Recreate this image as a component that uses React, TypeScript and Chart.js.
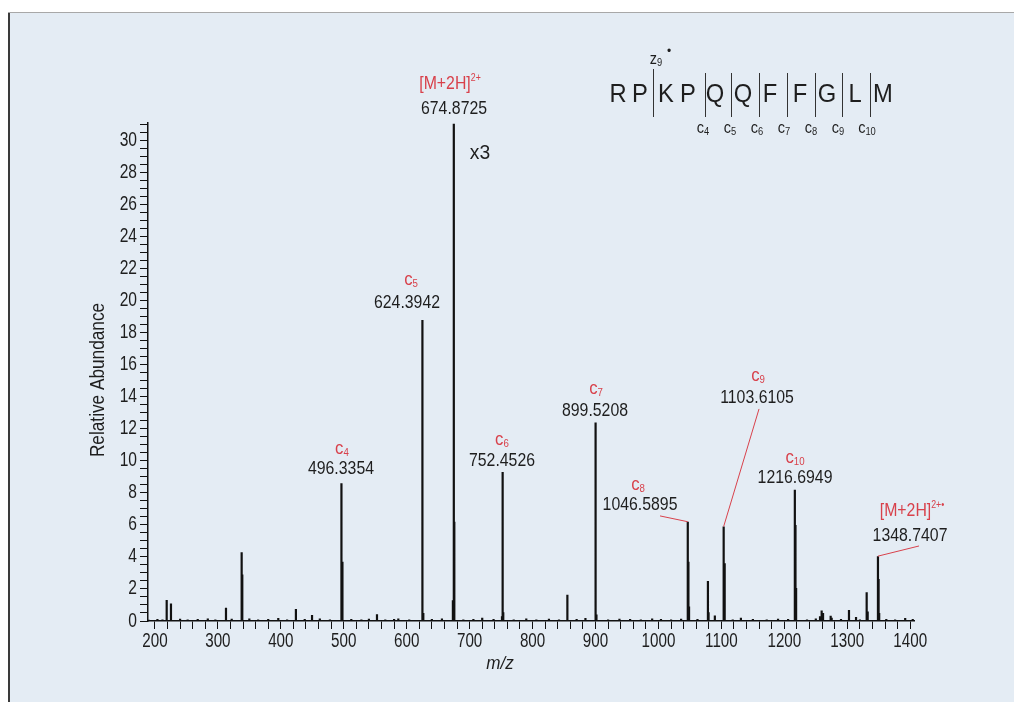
import React, { useEffect, useRef } from "react";
import { Chart, registerables } from "chart.js";

Chart.register(...registerables);

// ---------------- data ----------------
const PEAK_MZ = [
  218.7, 225.5, 312.9, 337.8, 338.8, 424.0, 449.6, 496.34, 497.34, 498.3, 552.8, 586.7,
  624.39, 625.39, 626.4, 673.4, 674.87, 675.37, 675.87, 751.4, 752.45, 753.45, 854.7, 855.7,
  899.52, 900.52, 901.5, 1046.59, 1047.59, 1048.6, 1078.6, 1079.6, 1089.6, 1103.61, 1104.61, 1105.6,
  1216.69, 1217.69, 1218.7, 1256.7, 1259.3, 1261.5, 1273.6, 1275.2, 1302.7, 1313.9, 1330.8, 1332.4,
  1348.74, 1349.74, 1350.7,
];
const PEAK_ABUNDANCE = [
  1.31, 1.1, 0.83, 4.3, 2.9, 0.75, 0.37, 8.6, 3.7, 0.6, 0.42, 0.15,
  18.8, 5.9, 0.5, 1.3, 31.05, 6.2, 1.1, 0.3, 9.3, 0.55, 1.64, 0.5,
  12.4, 5.6, 0.4, 6.2, 3.7, 0.9, 2.5, 0.55, 0.35, 5.9, 3.6, 1.0,
  8.2, 6.0, 2.06, 0.3, 0.65, 0.5, 0.33, 0.2, 0.69, 0.25, 1.79, 0.6,
  4.05, 2.62, 0.5,
];
const NOISE_MZ = [
  190, 204, 212, 240, 252, 268, 284, 296,
  322, 350, 364, 380, 396, 410, 438, 462,
  478, 512, 528, 540, 566, 580, 604, 640,
  656, 690, 706, 720, 738, 770, 790, 806,
  826, 842, 870, 884, 920, 938, 955, 972,
  990, 1004, 1020, 1036, 1062, 1118, 1131, 1150,
  1172, 1190, 1206, 1236, 1250, 1290, 1320, 1362,
  1376, 1392, 1404,
];
const NOISE_ABUNDANCE = [
  0.08, 0.12, 0.1, 0.14, 0.1, 0.12, 0.16, 0.1,
  0.14, 0.16, 0.1, 0.12, 0.18, 0.1, 0.12, 0.15,
  0.1, 0.12, 0.1, 0.14, 0.1, 0.12, 0.1, 0.12,
  0.15, 0.1, 0.12, 0.2, 0.12, 0.1, 0.16, 0.1,
  0.14, 0.1, 0.12, 0.18, 0.1, 0.14, 0.12, 0.1,
  0.16, 0.12, 0.1, 0.14, 0.12, 0.1, 0.2, 0.12,
  0.1, 0.14, 0.12, 0.1, 0.15, 0.12, 0.1, 0.12,
  0.1, 0.18, 0.12,
];

// labelled peaks
const LABEL_MZ = [674.8725, 624.3942, 496.3354, 752.4526, 899.5208, 1046.5895, 1103.6105, 1216.6949, 1348.7407];
const LABEL_ABUNDANCE = [31.05, 18.8, 8.6, 9.3, 12.4, 6.2, 5.9, 8.2, 4.05];
const LABEL_ION = ["[M+2H]", "c", "c", "c", "c", "c", "c", "c", "[M+2H]"];
const LABEL_ION_INDEX = ["2+", "5", "4", "6", "7", "8", "9", "10", "2+\u2022"];

// axis
const X_MIN = 189;
const X_MAX = 1406;
const Y_MAX = 31.1;
const X_STEP = 20;
const X_LABEL_STEP = 100;
const Y_STEP = 0.5;
const Y_LABEL_STEP = 2;
const X_TITLE = "m/z";
const Y_TITLE = "Relative Abundance";
const SCALE_NOTE = "x3";

// sequence
const SEQUENCE = ["R", "P", "K", "P", "Q", "Q", "F", "F", "G", "L", "M"];
const C_IONS = ["4", "5", "6", "7", "8", "9", "10"];

// ---------------- layout / style (not data) ----------------
const LABEL_LAYOUT = [
  { textMz: 675.2, textAb: 31.98, ionDx: -4, ionDy: -25, leader: null as null | number[] },
  { textMz: 600.5, textAb: 19.86, ionDx: 4, ionDy: -23, leader: null },
  { textMz: 495.6, textAb: 9.49, ionDx: 1, ionDy: -20, leader: null },
  { textMz: 751.4, textAb: 9.99, ionDx: 0, ionDy: -21, leader: null },
  { textMz: 899.2, textAb: 13.12, ionDx: 1, ionDy: -22, leader: null },
  { textMz: 970.7, textAb: 7.25, ionDx: -2, ionDy: -20, leader: [20, 11] },
  { textMz: 1156.6, textAb: 13.93, ionDx: 1, ionDy: -22, leader: [2, 11] },
  { textMz: 1217.0, textAb: 8.93, ionDx: 0, ionDy: -20, leader: null },
  { textMz: 1399.7, textAb: 5.31, ionDx: 2, ionDy: -25, leader: [9, 10] },
];
const SEQ_X = [610, 632, 658, 680, 707, 735, 762, 792, 819, 847, 875];
const SEQ_BAR_X = [645, 697, 723, 751, 779, 807, 834, 862];
const SEQ_C_X = [695, 722, 749, 776, 803, 830, 859];

const SANS = "'Liberation Sans', Arial, Helvetica, sans-serif";
const RED = "#d8414b";
const INK = "#1e1e1e";
const BG = "#e4ecf4";

type Part = { t: string; size: number; dy?: number; style?: string };

function richText(
  ctx: CanvasRenderingContext2D,
  parts: Part[],
  x: number,
  y: number,
  align: "left" | "center" | "right",
  sx: number,
  color: string
) {
  ctx.save();
  let w = 0;
  for (const p of parts) {
    ctx.font = `${p.style || ""} ${p.size}px ${SANS}`;
    w += ctx.measureText(p.t).width;
  }
  w *= sx;
  let cx = align === "center" ? x - w / 2 : align === "right" ? x - w : x;
  ctx.fillStyle = color;
  ctx.textBaseline = "middle";
  ctx.textAlign = "left";
  for (const p of parts) {
    ctx.font = `${p.style || ""} ${p.size}px ${SANS}`;
    const pw = ctx.measureText(p.t).width;
    ctx.save();
    ctx.translate(cx, y + (p.dy || 0));
    ctx.scale(sx, 1);
    ctx.fillText(p.t, 0, 0);
    ctx.restore();
    cx += pw * sx;
  }
  ctx.restore();
}

function ionParts(base: string, idx: string): Part[] {
  if (base === "c") return [{ t: "c", size: 19 }, { t: idx, size: 11, dy: 4 }];
  return [{ t: base, size: 18 }, { t: idx, size: 10, dy: -6 }];
}

const annotationPlugin = {
  id: "spectrumAnnotations",
  afterDraw(chart: any) {
    const ctx: CanvasRenderingContext2D = chart.ctx;
    const xs = chart.scales.x;
    const ys = chart.scales.y;

    // condensed tick labels, positioned by the library's scales
    xs.ticks.forEach((t: any) => {
      const v = Math.round(t.value);
      if (v % X_LABEL_STEP !== 0) return;
      richText(ctx, [{ t: String(v), size: 20 }], xs.getPixelForValue(v), xs.top + 20, "center", 0.76, INK);
    });
    ys.ticks.forEach((t: any) => {
      const v = Math.round(t.value * 2) / 2;
      if (v % Y_LABEL_STEP !== 0) return;
      richText(ctx, [{ t: String(v), size: 20 }], ys.right - 11, ys.getPixelForValue(v), "right", 0.78, INK);
    });

    // peak labels
    LABEL_MZ.forEach((mz, i) => {
      const lay = LABEL_LAYOUT[i];
      const tx = xs.getPixelForValue(lay.textMz);
      const ty = ys.getPixelForValue(lay.textAb);
      richText(ctx, [{ t: mz.toFixed(4), size: 18 }], tx, ty, "center", 0.88, INK);
      richText(ctx, ionParts(LABEL_ION[i], LABEL_ION_INDEX[i]), tx + lay.ionDx, ty + lay.ionDy, "center", 0.88, RED);
      if (lay.leader) {
        const px = xs.getPixelForValue(mz);
        const py = ys.getPixelForValue(LABEL_ABUNDANCE[i]);
        ctx.save();
        ctx.strokeStyle = RED;
        ctx.lineWidth = 1;
        ctx.beginPath();
        ctx.moveTo(tx + lay.leader[0], ty + lay.leader[1]);
        ctx.lineTo(px, py);
        ctx.stroke();
        ctx.restore();
      }
    });

    // x3 note near the base peak
    richText(ctx, [{ t: SCALE_NOTE, size: 21 }], xs.getPixelForValue(LABEL_MZ[0]) + 16, ys.getPixelForValue(29.2), "left", 0.92, INK);

    // axis titles
    ctx.save();
    ctx.translate(90, 368);
    ctx.rotate(-Math.PI / 2);
    richText(ctx, [{ t: Y_TITLE, size: 21 }], 0, 0, "center", 0.82, INK);
    ctx.restore();
    richText(ctx, [{ t: X_TITLE, size: 19, style: "italic" }], 492, 652, "center", 0.9, INK);

    // sequence diagram
    SEQUENCE.forEach((s, i) => {
      richText(ctx, [{ t: s, size: 25 }], SEQ_X[i], 83, "center", 0.95, INK);
    });
    ctx.save();
    ctx.strokeStyle = "#333";
    ctx.lineWidth = 1;
    SEQ_BAR_X.forEach((bx, i) => {
      ctx.beginPath();
      ctx.moveTo(bx + 0.5, i === 0 ? 57 : 61);
      ctx.lineTo(bx + 0.5, 105);
      ctx.stroke();
    });
    ctx.restore();
    C_IONS.forEach((c, i) => {
      richText(ctx, [{ t: "c", size: 17 }, { t: c, size: 11, dy: 4 }], SEQ_C_X[i], 116, "center", 0.85, INK);
    });
    richText(ctx, [{ t: "z", size: 17 }, { t: "9", size: 11, dy: 4 }], 648, 47, "center", 0.85, INK);
    richText(ctx, [{ t: "\u2022", size: 12 }], 661, 40, "center", 1, INK);
  },
};

function buildPoints() {
  const pts: { x: number; y: number }[] = [];
  const all: [number, number][] = [];
  PEAK_MZ.forEach((m, i) => all.push([m, PEAK_ABUNDANCE[i]]));
  NOISE_MZ.forEach((m, i) => all.push([m, NOISE_ABUNDANCE[i]]));
  all.sort((a, b) => a[0] - b[0]);
  for (const [m, a] of all) {
    pts.push({ x: m, y: 0 });
    pts.push({ x: m, y: a });
    pts.push({ x: m, y: 0 });
  }
  return pts;
}

export default function App() {
  const ref = useRef<HTMLCanvasElement | null>(null);

  useEffect(() => {
    if (!ref.current) return;
    const chart = new Chart(ref.current, {
      type: "scatter",
      data: {
        datasets: [
          {
            data: buildPoints(),
            showLine: true,
            borderColor: "#111",
            borderWidth: 2.2,
            borderJoinStyle: "bevel",
            pointRadius: 0,
            pointHoverRadius: 0,
            tension: 0,
          } as any,
        ],
      },
      options: {
        animation: false,
        responsive: false,
        events: [],
        layout: { padding: { top: 111, right: 100, bottom: 0, left: 0 } },
        plugins: { legend: { display: false }, tooltip: { enabled: false } },
        scales: {
          x: {
            type: "linear",
            min: X_MIN,
            max: X_MAX,
            afterFit: (s: any) => {
              s.height = 81;
            },
            border: { display: true, color: "#111", width: 1.5 },
            grid: { display: true, drawOnChartArea: false, drawTicks: true, tickLength: 8, color: "#111", lineWidth: 1 },
            ticks: {
              stepSize: X_STEP,
              includeBounds: false,
              autoSkip: false,
              maxRotation: 0,
              callback: () => "",
            },
          },
          y: {
            type: "linear",
            min: 0,
            max: Y_MAX,
            afterFit: (s: any) => {
              s.width = 140;
            },
            border: { display: true, color: "#111", width: 1.5 },
            grid: { display: true, drawOnChartArea: false, drawTicks: true, tickLength: 8, color: "#111", lineWidth: 1 },
            ticks: {
              stepSize: Y_STEP,
              includeBounds: false,
              autoSkip: false,
              callback: () => "",
            },
          },
        },
      },
      plugins: [annotationPlugin],
    } as any);
    return () => chart.destroy();
  }, []);

  return (
    <div style={{ position: "fixed", left: 8, top: 12, width: 1006, height: 690, background: BG }}>
      <canvas ref={ref} width={1006} height={690} style={{ display: "block", width: 1006, height: 690 }} />
      <div style={{ position: "absolute", left: 0, top: 0, width: 2, height: 690, background: "#3a3a3a" }} />
      <div style={{ position: "absolute", left: 0, top: 0, width: 1006, height: 1, background: "#a8a8a8" }} />
    </div>
  );
}
